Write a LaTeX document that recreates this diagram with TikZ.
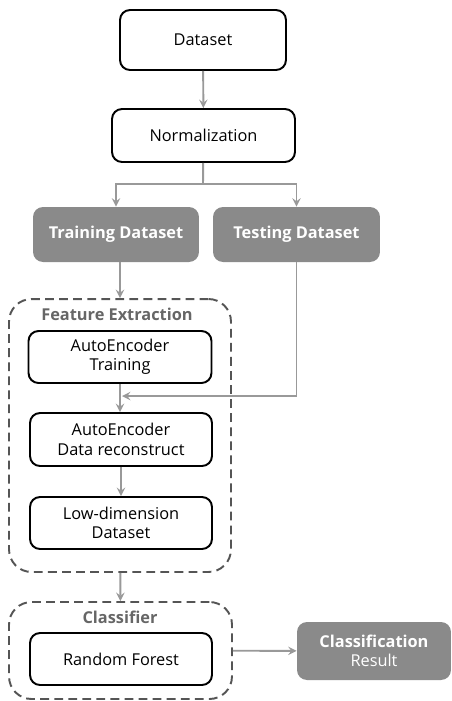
\documentclass[tikz,border=0pt]{standalone}
\usepackage{fontspec}
\setmainfont{Open Sans}
\usetikzlibrary{arrows}
\definecolor{boxgray}{HTML}{8A8A8A}
\definecolor{linegray}{HTML}{999999}
\definecolor{dashgray}{HTML}{555555}
\definecolor{labelgray}{HTML}{666666}
\tikzset{box/.style={draw=black, line width=1.1pt, rounded corners=0.2cm, align=center, inner sep=0pt, font=\fontsize{9.3}{11}\selectfont},
%filled boxes for data sets and result
databox/.style={fill=boxgray, text=white, rounded corners=0.2cm, align=center, inner sep=0pt, font=\fontsize{9.3}{11}\selectfont\bfseries},
group/.style={draw=dashgray, dashed, dash pattern=on 5pt off 3pt, line width=1.1pt, rounded corners=0.45cm, inner sep=0pt},
grouplabel/.style={text=labelgray, font=\fontsize{9.3}{11}\selectfont\bfseries},
arr/.style={draw=linegray, line width=1.1pt, -stealth}}

\begin{document}
\begin{tikzpicture}[x=0.02cm,y=-0.02cm]

\useasboundingbox (0,0) rectangle (451,701);

% Draw top boxes
\node[box, minimum width=3.32cm, minimum height=1.2cm] (ds) at (203,40) {Dataset};
\node[box, minimum width=3.66cm, minimum height=1.06cm] (norm) at (203.5,135.5) {Normalization};
\draw[arr] (ds) -- (norm);

% Draw split
\node[databox, minimum width=3.32cm, minimum height=1.1cm] (train) at (116,234.5) {Training Dataset};
\node[databox, minimum width=3.34cm, minimum height=1.1cm] (test) at (296.5,234.5) {Testing Dataset};
\coordinate (split) at (203,184);
\draw[draw=linegray, line width=1.1pt] (norm) -- (split);
\draw[arr] (split) -| (train);
\draw[arr] (split) -| (test);

% Draw feature extraction
\node[group, minimum width=4.44cm, minimum height=5.46cm] (fe) at (120,435.5) {};
\node[grouplabel] (felabel) at (117,314) {Feature Extraction};
\node[box, minimum width=3.66cm, minimum height=1.04cm] (aet) at (120,357) {AutoEncoder\\Training};
\node[box, minimum width=3.64cm, minimum height=1.06cm] (aer) at (121,439.5) {AutoEncoder\\Data reconstruct};
\node[box, minimum width=3.64cm, minimum height=1.04cm] (low) at (121,523) {Low-dimension\\Dataset};
\draw[arr] (fe.north |- train.south) -- (fe.north);
\draw[arr] (aet.south) -- (aer.north -| aet.south);
\coordinate (join) at (122,396);
\draw[arr] (test) |- (join);
\draw[arr] (aer) -- (low);

% Draw classifier
\node[group, minimum width=4.46cm, minimum height=1.94cm] (cl) at (120.5,650.5) {};
\node[grouplabel] (cllabel) at (120,617) {Classifier};
\node[box, minimum width=3.64cm, minimum height=1.04cm] (rf) at (121,659) {Random Forest};
\node[databox, minimum width=3.08cm, minimum height=1.16cm] (res) at (374,651) {Classification\\{\mdseries Result}};
\draw[arr] (fe) -- (cl);
\draw[arr] (cl) -- (res);

\end{tikzpicture}
\end{document}
